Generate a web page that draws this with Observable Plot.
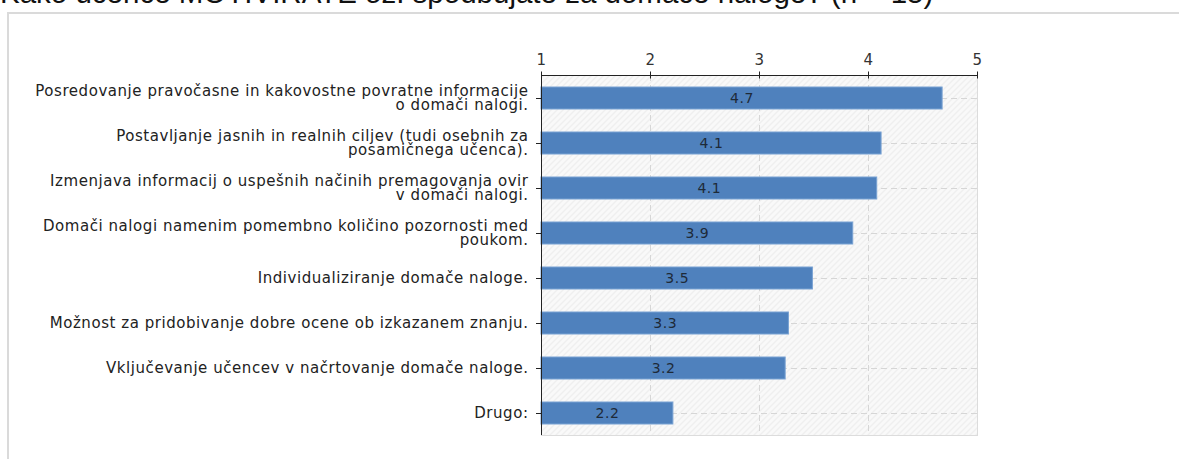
<!DOCTYPE html>
<html><head><meta charset="utf-8">
<script src="https://cdn.jsdelivr.net/npm/d3@7"></script>
<script src="https://cdn.jsdelivr.net/npm/@observablehq/plot@0.6"></script>
<style>
html,body{margin:0;padding:0;background:#fff;overflow:hidden;width:1179px;height:459px;}
#title{position:absolute;left:0;top:-22px;font:29.5px/29.5px "Liberation Sans",Arial,sans-serif;color:#111;white-space:nowrap;}
#box{position:absolute;left:7px;top:12px;width:1200px;height:500px;border:2px solid #dadada;}
#chart{position:absolute;left:0;top:0;}
</style></head><body>
<div id="title">Kako učence MOTIVIRATE oz. spodbujate za domače naloge? (n = 15)</div>
<div id="box"></div>
<div id="chart"></div>
<script>
const categories = [
  "Posredovanje pravočasne in kakovostne povratne informacije\no domači nalogi.",
  "Postavljanje jasnih in realnih ciljev (tudi osebnih za\nposamičnega učenca).",
  "Izmenjava informacij o uspešnih načinih premagovanja ovir\nv domači nalogi.",
  "Domači nalogi namenim pomembno količino pozornosti med\npoukom.",
  "Individualiziranje domače naloge.",
  "Možnost za pridobivanje dobre ocene ob izkazanem znanju.",
  "Vključevanje učencev v načrtovanje domače naloge.",
  "Drugo:"
];
const values = [4.68, 4.12, 4.08, 3.86, 3.49, 3.27, 3.24, 2.21];
const valueLabels = ["4.7", "4.1", "4.1", "3.9", "3.5", "3.3", "3.2", "2.2"];
const xTicks = [1, 2, 3, 4, 5];
const gridTicks = [2, 3, 4];

const data = categories.map((c, i) => ({cat: c, value: values[i], label: valueLabels[i]}));

const defsMark = () => {
  const defs = d3.create("svg:defs");
  const p = defs.append("pattern").attr("id", "hatch").attr("patternUnits", "userSpaceOnUse")
    .attr("width", 6).attr("height", 6);
  p.append("rect").attr("width", 6).attr("height", 6).attr("fill", "#f9f9f9");
  p.append("path").attr("d", "M-1,1L1,-1M0,6L6,0M5,7L7,5").attr("stroke", "#e4e4e4").attr("stroke-width", 1);
  return defs.node();
};

const topAxisMark = (index, scales, values, dims) => {
  const x = scales.x;
  const g = d3.create("svg:g").attr("stroke", "#222").attr("stroke-width", 1);
  const y0 = dims.marginTop + 0.5;
  g.append("line").attr("x1", x(xTicks[0])).attr("x2", x(xTicks[xTicks.length - 1]))
    .attr("y1", y0).attr("y2", y0);
  g.selectAll("line.t").data(xTicks).join("line").attr("class", "t")
    .attr("x1", d => Math.round(x(d)) + 0.5).attr("x2", d => Math.round(x(d)) + 0.5)
    .attr("y1", y0 - 4).attr("y2", y0 + 3);
  return g.node();
};

const chart = Plot.plot({
  width: 1179,
  height: 459,
  marginLeft: 541,
  marginRight: 202,
  marginTop: 75,
  marginBottom: 24,
  style: {fontFamily: "'DejaVu Sans', Verdana, sans-serif", fontSize: "15px", background: "transparent", color: "#222", letterSpacing: "0.55px"},
  x: {domain: [xTicks[0], xTicks[xTicks.length - 1]]},
  y: {domain: categories, paddingInner: 0.52, paddingOuter: 0.26},
  marks: [
    defsMark,
    Plot.frame({fill: "url(#hatch)", stroke: "#dcdcdc"}),
    Plot.gridX(gridTicks, {stroke: "#d6d6d6", strokeOpacity: 1, strokeDasharray: "6,4"}),
    Plot.gridY({stroke: "#d6d6d6", strokeOpacity: 1, strokeDasharray: "6,4"}),
    Plot.barX(data, {x1: () => xTicks[0], x2: "value", y: "cat", fill: "#4f81bd", stroke: "#79a2d3", strokeWidth: 1}),
    Plot.text(data, {x: d => (xTicks[0] + d.value) / 2, y: "cat", text: "label", fill: "#1e2a38", fontSize: 14}),
    Plot.ruleX([xTicks[0]], {stroke: "#222"}),
    topAxisMark,
    Plot.axisX({anchor: "top", ticks: xTicks, tickFormat: d => String(d), tickSize: 0, tickPadding: 11, fontSize: 15, label: null, color: "#333"}),
    Plot.axisY({anchor: "left", tickSize: 5, tickPadding: 8, fontSize: 15, lineHeight: 0.95, label: null, color: "#222"})
  ]
});
document.getElementById("chart").appendChild(chart);
</script>
</body></html>
